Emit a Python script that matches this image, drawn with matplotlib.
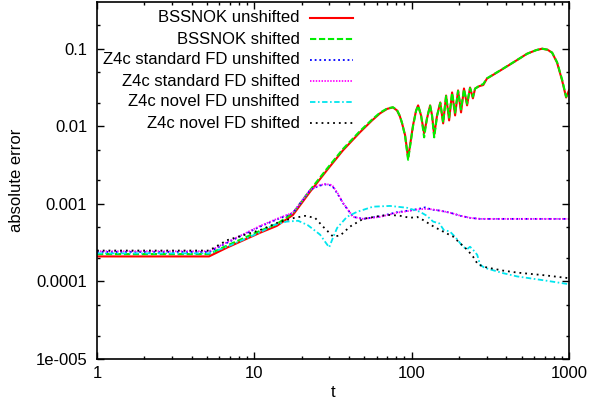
import matplotlib
matplotlib.use("Agg")
import matplotlib.pyplot as plt
from matplotlib.ticker import FixedLocator, FixedFormatter, LogLocator, NullFormatter

plt.rcParams['font.family'] = ['Liberation Sans', 'DejaVu Sans']

# ---- data ---------------------------------------------------------------
bssn_unshifted_t = [1, 5.15, 6.71, 10.9, 13.9, 17.6, 22.6, 29, 36.6, 47, 56, 63, 70, 76,
                    80.7, 84.2, 86.9, 90.8, 94.9, 97.7, 102, 106.7, 109.9, 114.7, 120,
                    125.3, 131, 134.8, 139, 145, 152, 158.5, 165.5, 173, 180.7, 188.8,
                    197.2, 206, 215, 225, 235, 245, 253, 270, 285, 301, 365, 441, 542,
                    620, 675, 730, 781, 840, 904, 959, 1000]
bssn_unshifted_v = [2.1e-4, 2.1e-4, 2.73e-4, 4.25e-4, 5.2e-4, 7.2e-4, 1.43e-3, 2.73e-3,
                    4.9e-3, 8.4e-3, 1.19e-2, 1.47e-2, 1.68e-2, 1.75e-2,
                    1.6e-2, 1.34e-2, 1.09e-2, 7.7e-3, 3.9e-3, 5.7e-3, 1.03e-2, 1.6e-2,
                    1.86e-2, 1.38e-2, 8.1e-3,
                    1.27e-2, 1.86e-2, 1.38e-2, 7.7e-3, 1.38e-2, 2.03e-2, 1.09e-2,
                    2.49e-2, 1.19e-2, 2.73e-2, 1.38e-2,
                    2.9e-2, 1.51e-2, 3.07e-2, 1.86e-2, 3.16e-2, 2.29e-2, 3.07e-2,
                    3.3e-2, 3.4e-2, 4.12e-2, 5.22e-2, 6.62e-2, 8.63e-2,
                    9.6e-2, 1.0e-1, 9.7e-2, 8.9e-2, 6.6e-2, 3.9e-2, 2.35e-2, 2.9e-2]

bssn_shifted_t = [1, 5.15, 6.71, 10.9, 13.9, 17.6, 22.6, 29, 36.6, 47, 56, 63, 70, 76,
                  80.7, 84.2, 86.9, 90.8, 94.9, 97.7, 102, 106.7, 109.9, 114.7, 120,
                  125.3, 131, 134.8, 139, 145, 152, 158.5, 165.5, 173, 180.7, 188.8,
                  197.2, 206, 215, 225, 235, 245, 253, 270, 285, 301, 365, 441, 542,
                  620, 675, 730, 781, 840, 904, 959, 1000]
bssn_shifted_v = [2.25e-4, 2.25e-4, 2.9e-4, 4.5e-4, 5.5e-4, 7.6e-4, 1.5e-3, 2.85e-3,
                  5.1e-3, 8.7e-3, 1.22e-2, 1.5e-2, 1.7e-2, 1.76e-2,
                  1.62e-2, 1.36e-2, 1.1e-2, 7.5e-3, 3.7e-3, 5.5e-3, 1.0e-2, 1.58e-2,
                  1.84e-2, 1.4e-2, 7.2e-3,
                  1.3e-2, 1.84e-2, 1.36e-2, 7.2e-3, 1.36e-2, 2.0e-2, 1.12e-2,
                  2.45e-2, 1.3e-2, 2.68e-2, 1.5e-2,
                  2.85e-2, 1.65e-2, 3.0e-2, 1.95e-2, 3.1e-2, 2.4e-2, 3.05e-2,
                  3.35e-2, 3.5e-2, 4.15e-2, 5.25e-2, 6.65e-2, 8.6e-2,
                  9.6e-2, 1.0e-1, 9.7e-2, 8.9e-2, 6.7e-2, 4.0e-2, 2.4e-2, 2.8e-2]

z4c_std_t = [1, 5.15, 6.71, 10.9, 13.9, 17.6, 22.6, 25.5, 28.1, 31.2, 34, 36.6, 42.4,
             49.1, 63, 80.7, 100, 110, 121.7, 135, 150, 175, 205, 235, 272, 350, 500,
             700, 1000]
z4c_std_unshifted_v = [2.4e-4, 2.4e-4, 3.15e-4, 5.1e-4, 6.3e-4, 7.6e-4, 1.5e-3, 1.7e-3,
                       1.78e-3, 1.72e-3, 1.32e-3, 1.02e-3, 6.8e-4, 6.4e-4, 6.9e-4,
                       7.8e-4, 8.3e-4, 8.6e-4, 9.0e-4, 8.4e-4, 8.2e-4, 7.7e-4, 7.0e-4,
                       6.6e-4, 6.4e-4, 6.4e-4, 6.4e-4, 6.4e-4, 6.4e-4]
z4c_std_shifted_v = [2.45e-4, 2.45e-4, 3.2e-4, 5.2e-4, 6.4e-4, 7.7e-4, 1.51e-3, 1.72e-3,
                     1.8e-3, 1.75e-3, 1.35e-3, 1.03e-3, 6.8e-4, 6.4e-4, 6.8e-4,
                     7.7e-4, 8.2e-4, 8.5e-4, 8.6e-4, 8.5e-4, 8.2e-4, 7.7e-4, 7.0e-4,
                     6.6e-4, 6.4e-4, 6.4e-4, 6.4e-4, 6.4e-4, 6.4e-4]

z4c_novel_unshifted_t = [1, 5.15, 6.71, 10.9, 13.2, 16, 19, 21.9, 24, 26.2, 28, 29.9,
                         31.5, 33.6, 38.8, 45, 56.9, 72.9, 93.5, 113, 125, 137, 150, 160,
                         175, 190, 212, 225, 235, 248, 261, 272, 290, 315, 380, 468, 700,
                         1000]
z4c_novel_unshifted_v = [2.3e-4, 2.3e-4, 2.8e-4, 4.3e-4, 5.3e-4, 5.9e-4, 6.05e-4, 5.3e-4,
                         4.6e-4, 4.0e-4, 3.3e-4, 2.75e-4, 3.6e-4, 4.9e-4, 6.8e-4, 7.9e-4,
                         9.2e-4, 9.4e-4, 8.9e-4, 7.9e-4, 7.0e-4, 5.9e-4, 5.6e-4, 4.6e-4,
                         4.4e-4, 3.7e-4, 2.8e-4, 2.6e-4, 2.8e-4, 2.5e-4, 2.2e-4, 1.65e-4,
                         1.5e-4, 1.43e-4, 1.28e-4, 1.16e-4, 1.03e-4, 9.2e-5]

z4c_novel_shifted_t = [1, 5.15, 6.71, 10.9, 14.6, 18, 21, 24.3, 27.3, 31.6, 35.1, 40.6,
                       49.1, 63, 72.9, 85, 97.7, 108, 118, 128, 140, 152, 165, 183, 200,
                       225, 245, 264, 301, 380, 468, 700, 1000]
z4c_novel_shifted_v = [2.5e-4, 2.5e-4, 3.4e-4, 4.6e-4, 5.9e-4, 6.6e-4, 7.0e-4, 6.6e-4,
                       5.1e-4, 3.8e-4, 3.9e-4, 5.1e-4, 6.4e-4, 7.0e-4, 7.2e-4, 7.0e-4,
                       6.6e-4, 6.8e-4, 6.2e-4, 5.6e-4, 5.0e-4, 4.6e-4, 4.2e-4, 3.8e-4,
                       3.2e-4, 2.57e-4, 2.1e-4, 1.65e-4, 1.51e-4, 1.38e-4, 1.3e-4, 1.2e-4,
                       1.1e-4]

labels = ["BSSNOK unshifted", "BSSNOK shifted", "Z4c standard FD unshifted",
          "Z4c standard FD shifted", "Z4c novel FD unshifted", "Z4c novel FD shifted"]

y_ticks = [1e-5, 1e-4, 1e-3, 1e-2, 1e-1]
y_tick_labels = ["1e-005", "0.0001", "0.001", "0.01", "0.1"]
x_ticks = [1, 10, 100, 1000]
x_tick_labels = ["1", "10", "100", "1000"]

# ---- figure -------------------------------------------------------------
fig = plt.figure(figsize=(5.9, 4.07), dpi=100)
ax = fig.add_axes([97 / 590, 48 / 407, 472 / 590, 357 / 407])

series = [
    (bssn_unshifted_t, bssn_unshifted_v, dict(color="#ff0000", lw=1.5, ls="-")),
    (bssn_shifted_t, bssn_shifted_v, dict(color="#00ee00", lw=1.5, ls=(0, (3, 1.3)))),
    (z4c_std_t, z4c_std_unshifted_v, dict(color="#0000ff", lw=1.3, ls=(0, (1, 1.6)))),
    (z4c_std_t, z4c_std_shifted_v, dict(color="#ff00ff", lw=1.3, ls=(0, (0.8, 0.8)))),
    (z4c_novel_unshifted_t, z4c_novel_unshifted_v,
     dict(color="#00e5ee", lw=1.3, ls=(0, (3, 1.4, 0.9, 1.4)))),
    (z4c_novel_shifted_t, z4c_novel_shifted_v, dict(color="#000000", lw=1.3, ls=(0, (1, 2.2)))),
]

for t, v, style in series:
    ax.plot(t, v, **style)

ax.set_xscale("log")
ax.set_yscale("log")
ax.set_xlim(1, 1000)
ax.set_ylim(1e-5, 0.4)

ax.yaxis.set_major_locator(FixedLocator(y_ticks))
ax.yaxis.set_major_formatter(FixedFormatter(y_tick_labels))
ax.yaxis.set_minor_locator(LogLocator(base=10, subs=(2, 5)))
ax.yaxis.set_minor_formatter(NullFormatter())
ax.xaxis.set_major_locator(FixedLocator(x_ticks))
ax.xaxis.set_major_formatter(FixedFormatter(x_tick_labels))
ax.xaxis.set_minor_locator(LogLocator(base=10, subs=tuple(range(2, 10))))
ax.xaxis.set_minor_formatter(NullFormatter())

ax.tick_params(which="both", direction="in", top=True, right=True, width=1.0,
               labelsize=12, colors="black")
ax.tick_params(which="major", length=5)
ax.tick_params(which="minor", length=2.5)
ax.tick_params(axis="y", which="major", pad=7)
ax.tick_params(axis="x", which="major", pad=5)
for sp in ax.spines.values():
    sp.set_linewidth(1.2)

ax.set_xlabel("t", fontsize=12, labelpad=3)
ax.set_ylabel("absolute error", fontsize=12, labelpad=8)

# key: right-aligned text with the line sample to its right
for i, (label, (_, _, style)) in enumerate(zip(labels, series)):
    ypx = 18 + 21 * i
    yf = (359 - ypx) / 357
    ax.text((300 - 97) / 472, yf, label, transform=ax.transAxes, ha="right",
            va="center", fontsize=12)
    ax.plot([(310 - 97) / 472, (353 - 97) / 472], [yf, yf], transform=ax.transAxes,
            clip_on=False, **style)

fig.savefig("out.png", dpi=100)
